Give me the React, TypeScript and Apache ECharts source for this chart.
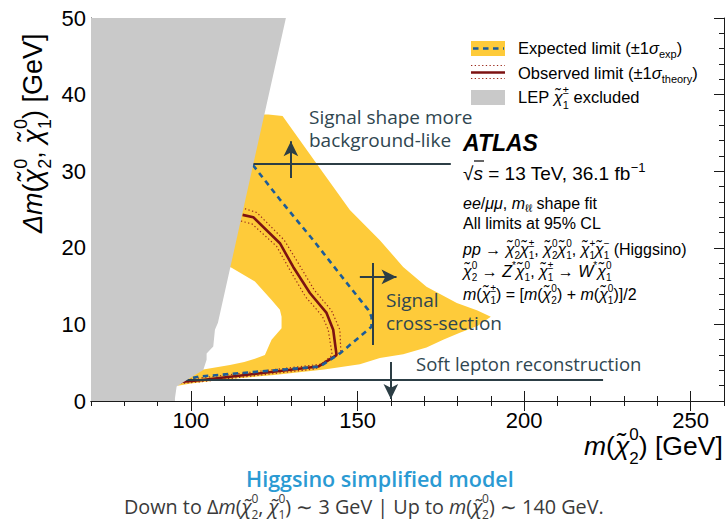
import React, { useEffect, useRef } from 'react';
import * as echarts from 'echarts';

// ---------- data (GeV) ----------
const xRange = [70, 260];
const yRange = [0, 50];
const xMajorTicks = [100, 150, 200, 250];

// LEP chargino exclusion (grey)
const lepX = [70, 70, 128.5, 108.1, 107.2, 106.7, 104.7, 104.7, 103.7, 99.7, 95.7, 95.2, 95.2];
const lepY = [0, 50, 50, 10.2, 9.3, 7.1, 6.2, 5.4, 4.05, 3.0, 1.9, 0.35, 0];

// Expected +-1 sigma band (yellow), outline traced around the inner hole
const bandX = [110, 123.2, 127.5, 137.2, 147.7, 156.7, 163.7, 170.7, 179.8, 186, 190, 186, 180.7, 175.7, 170.7, 163.7, 156.7, 150.7, 140, 125, 110, 100, 96, 99, 103.7, 111.7, 116, 119.2, 122.2, 123.5, 124.2, 127.2, 127.2, 126.7, 124.2, 119.2, 112.2, 108, 100, 100];
const bandY = [37.4, 37.4, 37.2, 31.3, 24.95, 21.0, 17.5, 14.9, 12.8, 11.8, 11.0, 9.8, 8.9, 8.0, 7.0, 6.1, 5.6, 4.8, 4.1, 3.4, 2.8, 2.3, 2.0, 3.3, 4.1, 4.7, 5.1, 5.5, 6.0, 7.3, 8.0, 9.5, 11.0, 11.9, 13.2, 15.6, 17.4, 18.2, 18.2, 37.4];

// Expected limit (dashed)
const expX = [118.6, 126.7, 136.7, 147.7, 153.2, 154.2, 154.2, 144.7, 138.7, 102.7, 96.7];
const expY = [30.8, 26.3, 21.0, 14.9, 11.9, 11.0, 9.7, 6.2, 4.5, 3.2, 2.7];

// Observed limit (solid) and +-1 sigma theory (dotted)
const obsX = [115.5, 118.7, 126.7, 130.7, 135.7, 140.7, 142.7, 143.7, 138.2, 102.7, 96.7];
const obsY = [24.3, 24.0, 20.6, 17.5, 14.1, 11.5, 9.3, 6.0, 4.5, 2.7, 2.5];
const obsUpX = [116.2, 119.8, 128.0, 132.2, 137.0, 142.2, 144.7, 145.0, 139.0, 102.7, 97];
const obsUpY = [25.1, 24.6, 21.0, 18.0, 14.5, 11.8, 9.3, 6.4, 4.8, 3.0, 2.7];
const obsDnX = [115.0, 118.4, 125.7, 129.7, 134.4, 139.4, 141.2, 142.4, 137.5, 102.7, 97];
const obsDnY = [23.5, 23.1, 20.2, 17.1, 13.6, 11.1, 9.3, 6.0, 4.2, 2.5, 2.3];

// Annotation segments [x1, y1, x2, y2]
const annShapeLine = [110.5, 31, 178, 31];
const annShapeArrow = [130, 29.1, 130, 33.9];
const annXsecLine = [154.6, 18, 154.6, 7.3];
const annXsecArrow = [150.7, 16.2, 161.7, 16.2];
const annSoftLine = [87.7, 2.74, 223.7, 2.74];
const annSoftArrow = [160, 5.1, 160, 0.25];

// ---------- styling ----------
const YELLOW = '#fecb3a';
const GREY = '#c9c9c9';
const ANN = '#2c3e45';
const ANN_TEXT = '#2f4650';
const HELV = 'Liberation Sans';
const SANS = 'Open Sans';
const CHI = 'χ\u0303';
const c = (sup: string, sub: string) => `{i|${CHI}}{sp|${sup}}{sb|${sub}}`;

const zip = (xs: number[], ys: number[]) => xs.map((x, i) => [x, ys[i]]);

function richSet(size: number, color: string, family: string, lh: number, scale: number) {
  const s = Math.round(size * scale);
  const half = Math.floor(lh / 2);
  return {
    i: { fontStyle: 'italic', fontSize: size, fontFamily: family, color },
    sp: { fontSize: s, fontFamily: family, color, verticalAlign: 'top', lineHeight: half, width: 0 },
    sb: { fontSize: s, fontFamily: family, color, verticalAlign: 'bottom', lineHeight: half },
    su: { fontSize: s, fontFamily: family, color, verticalAlign: 'top', lineHeight: half },
  };
}

function txt(text: string, x: number, y: number, size: number, opts: any = {}) {
  const color = opts.color || '#000';
  const family = opts.family || HELV;
  const lh = Math.round(size * (opts.lh || 1.55));
  return {
    type: 'text',
    x,
    y,
    rotation: opts.rotation || 0,
    z: 100,
    silent: true,
    style: {
      text,
      fontSize: size,
      fontFamily: family,
      fontWeight: opts.weight || 'normal',
      fontStyle: opts.style || 'normal',
      fill: color,
      lineHeight: lh,
      align: 'left',
      textAlign: 'left',
      verticalAlign: 'middle',
      textVerticalAlign: 'middle',
      rich: richSet(size, color, family, lh, opts.scale || 0.66),
    },
  };
}

function polySeries(xs: number[], ys: number[], color: string) {
  return {
    type: 'custom',
    coordinateSystem: 'cartesian2d',
    xAxisIndex: 0,
    yAxisIndex: 0,
    silent: true,
    clip: true,
    data: zip(xs, ys),
    renderItem: (params: any, api: any) => {
      if (params.dataIndex !== 0) return null;
      const pts = xs.map((x, i) => api.coord([x, ys[i]]));
      return { type: 'polygon', shape: { points: pts }, style: { fill: color, stroke: null } };
    },
  };
}

const seg = (a: number[], arrow: boolean) => [
  { coord: [a[0], a[1]], symbol: 'none' },
  arrow
    ? { coord: [a[2], a[3]], symbol: 'arrow', symbolSize: [11, 15] }
    : { coord: [a[2], a[3]], symbol: 'none' },
];

const axisColor = '#1a1a1a';
const labelStyle = { color: '#000', fontSize: 22, fontFamily: HELV };

function xAx(pos: 'top' | 'bottom', major: boolean) {
  return {
    type: 'value',
    position: pos,
    min: xRange[0],
    max: xRange[1],
    ...(major ? {} : { interval: 10 }),
    axisLine: { show: !major, lineStyle: { color: axisColor, width: 1 } },
    axisTick: major
      ? { show: true, inside: true, length: 10, customValues: xMajorTicks, lineStyle: { color: axisColor, width: 1 } }
      : { show: true, inside: true, length: 5, lineStyle: { color: axisColor, width: 1 } },
    axisLabel:
      major && pos === 'bottom'
        ? { show: true, customValues: xMajorTicks, margin: 8, ...labelStyle }
        : { show: false },
    splitLine: { show: false },
  };
}

function yAx(pos: 'left' | 'right', major: boolean) {
  return {
    type: 'value',
    position: pos,
    min: yRange[0],
    max: yRange[1],
    interval: major ? 10 : 2,
    axisLine: { show: !major, lineStyle: { color: axisColor, width: 1 } },
    axisTick: { show: true, inside: true, length: major ? 10 : 5, lineStyle: { color: axisColor, width: 1 } },
    axisLabel: major && pos === 'left' ? { show: true, margin: 5, ...labelStyle } : { show: false },
    splitLine: { show: false },
  };
}

const option: any = {
  animation: false,
  backgroundColor: '#fff',
  grid: { left: 91, right: 3, top: 18, bottom: 121, containLabel: false },
  xAxis: [xAx('bottom', false), xAx('bottom', true), xAx('top', false), xAx('top', true)],
  yAxis: [yAx('left', false), yAx('left', true), yAx('right', false), yAx('right', true)],
  series: [
    polySeries(bandX, bandY, YELLOW),
    {
      type: 'line',
      data: zip(obsUpX, obsUpY),
      symbol: 'none',
      silent: true,
      lineStyle: { color: '#9b2a1c', width: 1.2, type: [1.3, 2.4] },
      z: 3,
    },
    {
      type: 'line',
      data: zip(obsDnX, obsDnY),
      symbol: 'none',
      silent: true,
      lineStyle: { color: '#9b2a1c', width: 1.2, type: [1.3, 2.4] },
      z: 3,
    },
    {
      type: 'line',
      data: zip(obsX, obsY),
      symbol: 'none',
      silent: true,
      lineStyle: { color: '#7d1212', width: 2.6 },
      z: 4,
    },
    {
      type: 'line',
      data: zip(expX, expY),
      symbol: 'none',
      silent: true,
      lineStyle: { color: '#1d5c98', width: 2.6, type: [5.5, 4.5] },
      z: 4,
    },
    { ...polySeries(lepX, lepY, GREY), z: 5 },
    {
      type: 'line',
      data: [],
      symbol: 'none',
      silent: true,
      z: 6,
      markLine: {
        silent: true,
        animation: false,
        symbol: ['none', 'none'],
        label: { show: false },
        emphasis: { disabled: true },
        lineStyle: { color: ANN, width: 2, type: 'solid' },
        data: [
          seg(annShapeLine, false),
          seg(annShapeArrow, true),
          seg(annXsecLine, false),
          seg(annXsecArrow, true),
          seg(annSoftLine, false),
          seg(annSoftArrow, true),
        ],
      },
    },
  ],
  graphic: [
    // legend
    { type: 'rect', shape: { x: 471, y: 41, width: 34, height: 15 }, style: { fill: YELLOW }, z: 100, silent: true },
    { type: 'line', shape: { x1: 473, y1: 48.5, x2: 504, y2: 48.5 }, style: { stroke: '#1d5c98', lineWidth: 2.6, lineDash: [5.5, 4.5] }, z: 101, silent: true },
    { type: 'line', shape: { x1: 471, y1: 65.5, x2: 505, y2: 65.5 }, style: { stroke: '#9b2a1c', lineWidth: 1.2, lineDash: [1.3, 2.4] }, z: 101, silent: true },
    { type: 'line', shape: { x1: 471, y1: 72.5, x2: 505, y2: 72.5 }, style: { stroke: '#7d1212', lineWidth: 2.6 }, z: 101, silent: true },
    { type: 'line', shape: { x1: 471, y1: 78.5, x2: 505, y2: 78.5 }, style: { stroke: '#9b2a1c', lineWidth: 1.2, lineDash: [1.3, 2.4] }, z: 101, silent: true },
    { type: 'rect', shape: { x: 471, y: 90, width: 34, height: 15 }, style: { fill: GREY }, z: 100, silent: true },
    txt('Expected limit (±1{i|σ}{sb|exp})', 518, 48, 16.5, { lh: 1.35 }),
    txt('Observed limit (±1{i|σ}{sb|theory})', 518, 73, 16.5, { lh: 1.35 }),
    txt(`LEP ${c('±', '1')} excluded`, 518, 97, 16.5),

    // ATLAS block
    txt('ATLAS', 463, 143, 23, { weight: 'bold', style: 'italic', lh: 1.15 }),
    txt('√{i|s} = 13 TeV, 36.1 fb{su|−1}', 463, 173, 19, { lh: 1.3 }),
    { type: 'line', shape: { x1: 474, y1: 161, x2: 484, y2: 161 }, style: { stroke: '#000', lineWidth: 1.2 }, z: 101, silent: true },
    txt('{i|ee}/{i|μμ}, {i|m}{sb|ℓℓ} shape fit', 463, 203, 16, { lh: 1.25 }),
    txt('All limits at 95% CL', 463, 223, 16, { lh: 1.15 }),
    txt(`{i|pp} → ${c('0', '2')}${c('±', '1')}, ${c('0', '2')}${c('0', '1')}, ${c('+', '1')}${c('−', '1')} (Higgsino)`, 463, 249, 16, { lh: 1.35, scale: 0.6 }),
    txt(`${c('0', '2')} → {i|Z}{su|*}${c('0', '1')}, ${c('±', '1')} → {i|W}{su|*}${c('0', '1')}`, 463, 271, 16, { lh: 1.35, scale: 0.6 }),
    txt(`{i|m}(${c('±', '1')}) = [{i|m}(${c('0', '2')}) + {i|m}(${c('0', '1')})]/2`, 463, 294, 16, { lh: 1.35, scale: 0.6 }),

    // annotations
    txt('Signal shape more', 309, 117, 19, { family: SANS, color: ANN_TEXT, lh: 1.15 }),
    txt('background-like', 309, 140, 19, { family: SANS, color: ANN_TEXT, lh: 1.15 }),
    txt('Signal', 386, 300, 19, { family: SANS, color: ANN_TEXT, lh: 1.15 }),
    txt('cross-section', 386, 323, 19, { family: SANS, color: ANN_TEXT, lh: 1.15 }),
    txt('Soft lepton reconstruction', 416, 363, 18.5, { family: SANS, color: ANN_TEXT, lh: 1.15 }),

    // axis titles
    txt(`{i|Δm}(${c('0', '2')}, ${c('0', '1')}) [GeV]`, 33, 233, 27, { rotation: Math.PI / 2 }),
    txt(`{i|m}(${c('0', '2')}) [GeV]`, 584, 446, 26.5),

    // caption
    txt('Higgsino simplified model', 246, 478, 21.5, { family: SANS, color: '#2a9ad3', weight: 600, lh: 1.1 }),
    txt(`Down to Δ{i|m}(${c('0', '2')}, ${c('0', '1')}) ∼ 3 GeV | Up to {i|m}(${c('0', '2')}) ∼ 140 GeV.`, 124, 506, 19.8, { family: SANS, color: '#3a3a3a', lh: 1.4, scale: 0.62 }),
  ],
};

export default function App() {
  const ref = useRef<HTMLDivElement>(null);
  useEffect(() => {
    if (!ref.current) return;
    const chart = echarts.init(ref.current, null, { renderer: 'svg' });
    chart.setOption(option);
    return () => chart.dispose();
  }, []);
  return <div ref={ref} style={{ position: 'fixed', left: 0, top: 0, width: 727, height: 522, background: '#fff' }} />;
}
